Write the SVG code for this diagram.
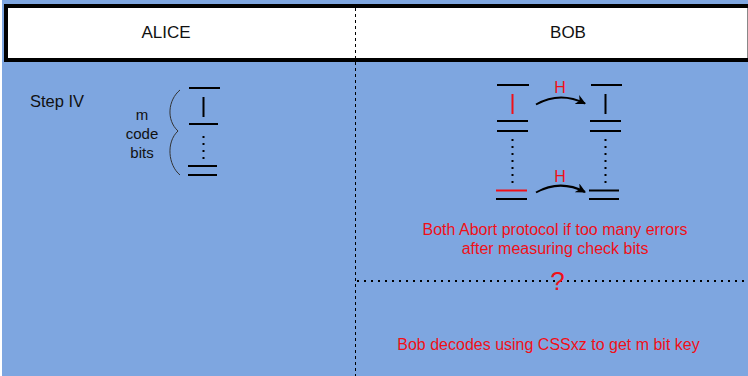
<svg xmlns="http://www.w3.org/2000/svg" width="748" height="376" viewBox="0 0 748 376">
  <defs>
    <style>
      .lbl { font-family: "Liberation Sans", Arial, sans-serif; fill: #111; }
      .red { font-family: "Liberation Sans", Arial, sans-serif; fill: #f01018; }
      .bar { stroke: #000; stroke-width: 2; fill: none; }
      .redbar { stroke: #f01018; stroke-width: 2; fill: none; }
      .dots { stroke: #000; stroke-width: 2; stroke-dasharray: 2 5; fill: none; }
      .arc { stroke: #000; stroke-width: 2; fill: none; }
    </style>
    <marker id="head" viewBox="0 0 10 10" refX="9" refY="5" markerWidth="5" markerHeight="5" orient="auto" markerUnits="strokeWidth">
      <path d="M0,0 L10,5 L0,10 L3,5 Z" fill="#000"/>
    </marker>
  </defs>

  <!-- background -->
  <rect x="0" y="0" width="748" height="376" fill="#ffffff"/>
  <rect x="2" y="0" width="746" height="376" fill="#7ea6e0"/>

  <!-- header bar -->
  <g id="header">
    <rect x="6" y="6" width="746" height="54" fill="#ffffff" stroke="#000" stroke-width="4"/>
    <line x1="747.5" y1="8" x2="747.5" y2="58" stroke="#888" stroke-width="1"/>
    <text class="lbl" x="166" y="38" font-size="17" text-anchor="middle">ALICE</text>
    <text class="lbl" x="568" y="38" font-size="17" text-anchor="middle">BOB</text>
  </g>

  <!-- lane separators -->
  <g id="separators">
    <line x1="355.5" y1="8" x2="355.5" y2="376" stroke="#000" stroke-width="1" stroke-dasharray="3 3"/>
    <line x1="357" y1="281" x2="748" y2="281" stroke="#000" stroke-width="2" stroke-dasharray="2 5"/>
  </g>

  <g id="step">
    <text class="lbl" x="30" y="107" font-size="16.5">Step IV</text>
  </g>

  <!-- Alice: m code bits -->
  <g id="alice-code">
    <text class="lbl" x="142" y="120" font-size="15" text-anchor="middle">m</text>
    <text class="lbl" x="142" y="139" font-size="15" text-anchor="middle">code</text>
    <text class="lbl" x="142" y="158" font-size="15" text-anchor="middle">bits</text>
    <path d="M180,90 C168,100 166,120 178,131 C166,142 168,165 180,175" stroke="#333" stroke-width="1" fill="none"/>
    <line class="bar" x1="189" y1="88" x2="220" y2="88"/>
    <line class="bar" x1="203.5" y1="97" x2="203.5" y2="117"/>
    <line class="bar" x1="189" y1="124" x2="218" y2="124"/>
    <line class="dots" x1="203.5" y1="136" x2="203.5" y2="160"/>
    <line class="bar" x1="188" y1="166" x2="217" y2="166"/>
    <line class="bar" x1="188" y1="175" x2="217" y2="175"/>
  </g>

  <!-- Bob: received qubits -->
  <g id="bob-received">
    <line class="bar" x1="497" y1="85" x2="529" y2="85"/>
    <line class="redbar" x1="512.5" y1="94" x2="512.5" y2="114"/>
    <line class="bar" x1="497" y1="121" x2="528" y2="121"/>
    <line class="bar" x1="497" y1="131" x2="528" y2="131"/>
    <line class="dots" x1="512.5" y1="139" x2="512.5" y2="184"/>
    <line class="redbar" x1="496" y1="190.5" x2="527" y2="190.5"/>
    <line class="bar" x1="496" y1="199" x2="527" y2="199"/>
  </g>

  <!-- Bob: after Hadamard -->
  <g id="bob-transformed">
    <line class="bar" x1="591" y1="85" x2="622" y2="85"/>
    <line class="bar" x1="605.5" y1="94" x2="605.5" y2="114"/>
    <line class="bar" x1="590" y1="121" x2="621" y2="121"/>
    <line class="bar" x1="590" y1="131" x2="621" y2="131"/>
    <line class="dots" x1="605.5" y1="139" x2="605.5" y2="184"/>
    <line class="bar" x1="589" y1="190.5" x2="619" y2="190.5"/>
    <line class="bar" x1="589" y1="199" x2="619" y2="199"/>
  </g>

  <!-- Hadamard connectors -->
  <g id="connectors">
    <path class="arc" d="M536,104.5 Q560,91 585,103.5" marker-end="url(#head)"/>
    <path class="arc" d="M536,192.5 Q560,179 585,192" marker-end="url(#head)"/>
    <text class="red" x="560" y="93" font-size="16" text-anchor="middle">H</text>
    <text class="red" x="560" y="182" font-size="16" text-anchor="middle">H</text>
  </g>

  <!-- outcome notes -->
  <g id="notes">
    <text class="red" x="555" y="235" font-size="16" text-anchor="middle">Both Abort protocol if too many errors</text>
    <text class="red" x="555" y="254" font-size="16" text-anchor="middle">after measuring check bits</text>
    <text class="red" x="557.5" y="290" font-size="26" text-anchor="middle">?</text>
    <text class="red" x="548.5" y="350" font-size="16" text-anchor="middle">Bob decodes using CSSxz to get m bit key</text>
  </g>
</svg>
